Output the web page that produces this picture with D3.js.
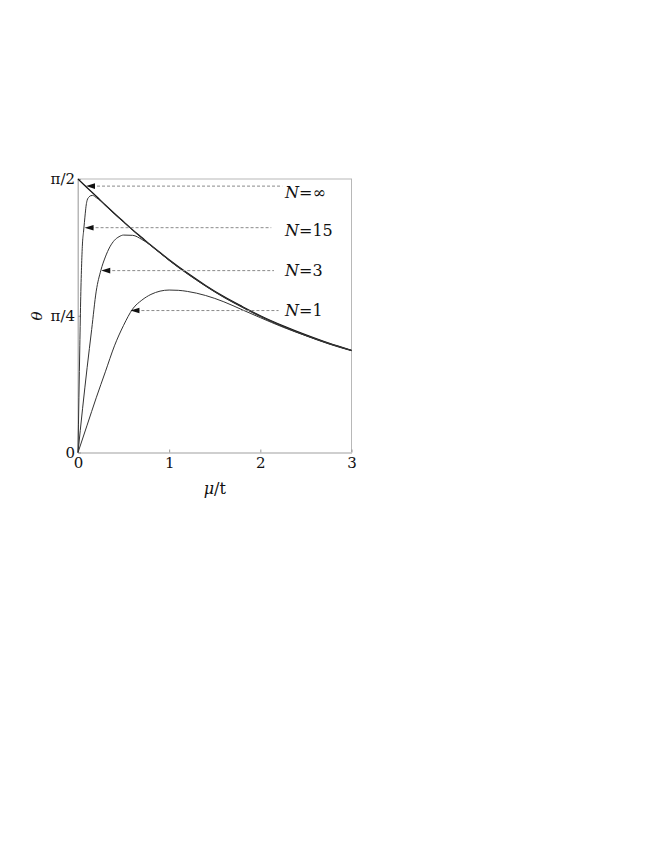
<!DOCTYPE html>
<html>
<head>
<meta charset="utf-8">
<script src="https://cdn.jsdelivr.net/npm/d3@7"></script>
<style>
  body { margin: 0; background: #fff; }
</style>
</head>
<body>
<svg id="chart" width="664" height="860"></svg>
<script>
// theta values are in units of pi/2
const muInf = [0, 0.1, 0.2, 0.3, 0.4, 0.5, 0.6, 0.7, 0.8, 0.9, 1.0, 1.2, 1.4, 1.6, 1.8, 2.0, 2.25, 2.5, 2.75, 3.0];
const thetaInf = [1.0, 0.968, 0.937, 0.905, 0.874, 0.844, 0.814, 0.786, 0.758, 0.731, 0.705, 0.656, 0.611, 0.570, 0.534, 0.500, 0.463, 0.430, 0.400, 0.374];

const mu15 = [0, 0.01, 0.02, 0.03, 0.04, 0.05, 0.06, 0.07, 0.08, 0.09, 0.1, 0.12, 0.14, 0.16, 0.18, 0.2, 0.25, 0.3, 0.4, 0.5, 0.6, 0.8, 1.0, 1.2, 1.4, 1.6, 1.8, 2.0, 2.25, 2.5, 2.75, 3.0];
const theta15 = [0, 0.20, 0.39, 0.57, 0.69, 0.77, 0.805, 0.84, 0.875, 0.905, 0.922, 0.934, 0.939, 0.940, 0.937, 0.932, 0.919, 0.903, 0.872, 0.842, 0.812, 0.756, 0.703, 0.654, 0.609, 0.568, 0.532, 0.498, 0.461, 0.428, 0.398, 0.373];

const mu3 = [0, 0.05, 0.1, 0.15, 0.2, 0.25, 0.3, 0.35, 0.4, 0.45, 0.5, 0.6, 0.7, 0.8, 0.9, 1.0, 1.2, 1.4, 1.6, 1.8, 2.0, 2.25, 2.5, 2.75, 3.0];
const theta3 = [0, 0.16, 0.31, 0.45, 0.59, 0.665, 0.715, 0.752, 0.776, 0.789, 0.795, 0.794, 0.779, 0.757, 0.730, 0.702, 0.653, 0.608, 0.567, 0.531, 0.497, 0.460, 0.427, 0.397, 0.372];

const mu1 = [0, 0.1, 0.2, 0.3, 0.4, 0.5, 0.6, 0.7, 0.8, 0.9, 1.0, 1.1, 1.2, 1.4, 1.6, 1.8, 2.0, 2.25, 2.5, 2.75, 3.0];
const theta1 = [0, 0.10, 0.20, 0.295, 0.39, 0.465, 0.525, 0.557, 0.578, 0.590, 0.594, 0.593, 0.589, 0.574, 0.551, 0.522, 0.493, 0.458, 0.427, 0.399, 0.373];

// annotations: label, arrow tip (mu), level (theta), dashed end (mu)
const labelNames = ["\u221E", "15", "3", "1"];
const arrowTipMu = [0.088, 0.072, 0.255, 0.575];
const arrowTheta = [0.974, 0.822, 0.665, 0.519];
const dashEndMu = [2.24, 2.12, 2.15, 2.2];

const xTicks = [0, 1, 2, 3];
const yTicks = [0, 0.5, 1];
const yTickLabels = ["0", "\u03C0/4", "\u03C0/2"];

const serif = "'DejaVu Serif', serif";

const svg = d3.select("#chart").style("font-family", serif);
const plotLeft = 78, plotRight = 351.5, plotTop = 179, plotBottom = 452.5;

const x = d3.scaleLinear().domain([0, 3]).range([plotLeft, plotRight]);
const y = d3.scaleLinear().domain([0, 1]).range([plotBottom, plotTop]);

// frame
svg.append("rect")
    .attr("x", plotLeft).attr("y", plotTop)
    .attr("width", plotRight - plotLeft).attr("height", plotBottom - plotTop)
    .attr("fill", "none").attr("stroke", "#b8b8b8").attr("stroke-width", 1);

const xAxis = svg.append("g")
    .attr("transform", `translate(0,${plotBottom})`)
    .call(d3.axisBottom(x).tickValues(xTicks).tickFormat(d3.format("d"))
        .tickSizeInner(-3).tickSizeOuter(0).tickPadding(5));
xAxis.style("font-family", serif).attr("font-size", 15);
xAxis.select(".domain").attr("stroke", "#cfcfcf").attr("stroke-width", 2);
xAxis.selectAll(".tick line").attr("stroke", "#999");
xAxis.selectAll("text").attr("fill", "#111");

const yAxis = svg.append("g")
    .attr("transform", `translate(${plotLeft},0)`)
    .call(d3.axisLeft(y).tickValues(yTicks).tickFormat((d, i) => yTickLabels[i])
        .tickSizeInner(-3).tickSizeOuter(0).tickPadding(3));
yAxis.style("font-family", serif).attr("font-size", 15);
yAxis.select(".domain").attr("stroke", "#b8b8b8");
yAxis.selectAll(".tick line").attr("stroke", "#999");
yAxis.selectAll("text").attr("fill", "#111");

// axis titles
svg.append("text")
    .attr("transform", "translate(42,316) rotate(-90)")
    .attr("text-anchor", "middle")
    .attr("font-size", 15)
    .attr("font-style", "italic")
    .attr("fill", "#111")
    .text("\u03B8");

const xt = svg.append("text")
    .attr("x", (plotLeft + plotRight) / 2).attr("y", 494)
    .attr("text-anchor", "middle")
    .attr("font-size", 16)
    .attr("fill", "#111");
xt.append("tspan").attr("font-style", "italic").text("\u03BC");
xt.append("tspan").text("/t");

// curves
const line = d3.line()
    .curve(d3.curveMonotoneX)
    .x(d => x(d[0]))
    .y(d => y(d[1]));

const series = [
    [muInf, thetaInf, 1.2, "#111"],
    [mu15, theta15, 1, "#333"],
    [mu3, theta3, 1, "#333"],
    [mu1, theta1, 1, "#333"]
];

series.forEach(s => {
    svg.append("path")
        .datum(d3.zip(s[0], s[1]))
        .attr("fill", "none")
        .attr("stroke", s[3])
        .attr("stroke-width", s[2])
        .attr("d", line);
});

// dashed arrows and labels
labelNames.forEach((name, i) => {
    const ty = y(arrowTheta[i]);
    const tx = x(arrowTipMu[i]);
    svg.append("line")
        .attr("x1", tx + 6).attr("x2", x(dashEndMu[i]))
        .attr("y1", ty).attr("y2", ty)
        .attr("stroke", "#8a8a8a")
        .attr("stroke-width", 1)
        .attr("stroke-dasharray", "3,2");
    svg.append("path")
        .attr("d", `M${tx},${ty} L${tx + 9},${ty - 2.8} L${tx + 9},${ty + 2.8} Z`)
        .attr("fill", "#111");
    const lbl = svg.append("text")
        .attr("x", 285)
        .attr("y", ty + (i === 0 ? 6 : i === 1 ? 3 : 0))
        .attr("dy", "0.35em")
        .attr("font-size", 16)
        .attr("fill", "#111");
    lbl.append("tspan").attr("font-style", "italic").text("N");
    lbl.append("tspan").text("=" + name);
});
</script>
</body>
</html>
